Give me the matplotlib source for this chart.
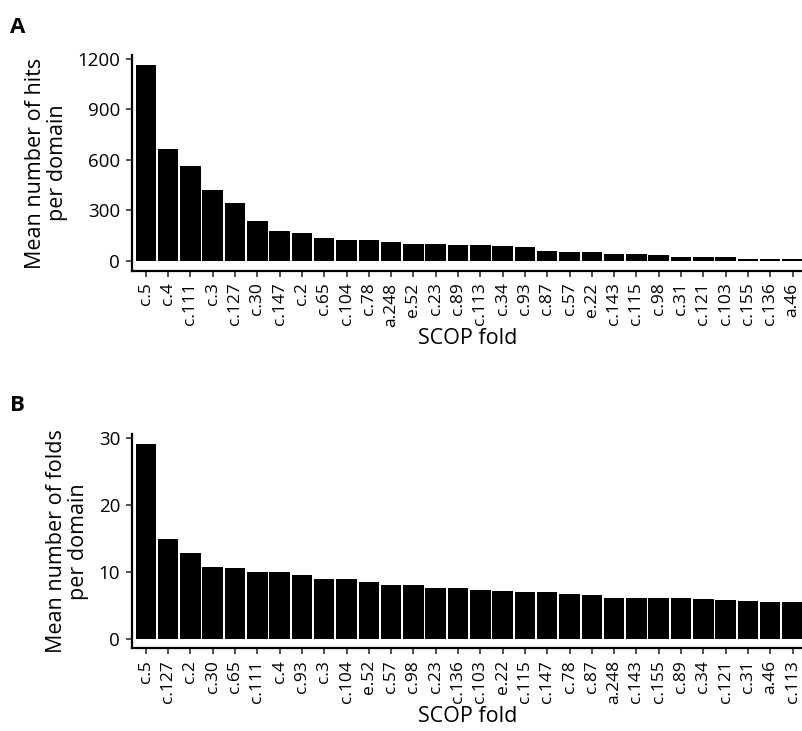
import matplotlib
import matplotlib.pyplot as plt
import numpy as np

plt.switch_backend('agg')
plt.rcParams['font.family'] = ['Open Sans', 'DejaVu Sans']

# panel A: mean number of hits per domain
folds_a = ['c.5', 'c.4', 'c.111', 'c.3', 'c.127', 'c.30', 'c.147', 'c.2', 'c.65',
           'c.104', 'c.78', 'a.248', 'e.52', 'c.23', 'c.89', 'c.113', 'c.34', 'c.93',
           'c.87', 'c.57', 'e.22', 'c.143', 'c.115', 'c.98', 'c.31', 'c.121',
           'c.103', 'c.155', 'c.136', 'a.46']
hits_a = [1163, 664, 565, 421, 346, 239, 180, 166, 138, 126, 126, 114, 101, 101,
          95, 95, 89, 83, 59, 53, 53, 41, 41, 36, 24, 24, 24, 12, 12, 12]

# panel B: mean number of folds per domain
folds_b = ['c.5', 'c.127', 'c.2', 'c.30', 'c.65', 'c.111', 'c.4', 'c.93', 'c.3',
           'c.104', 'e.52', 'c.57', 'c.98', 'c.23', 'c.136', 'c.103', 'e.22',
           'c.115', 'c.147', 'c.78', 'c.87', 'a.248', 'c.143', 'c.155', 'c.89',
           'c.34', 'c.121', 'c.31', 'a.46', 'c.113']
nfolds_b = [29.15, 14.98, 12.89, 10.80, 10.65, 9.95, 9.95, 9.60, 9.0, 9.0, 8.46,
            7.96, 7.96, 7.51, 7.51, 7.21, 7.06, 6.92, 6.92, 6.62, 6.47, 6.02,
            6.02, 6.02, 6.02, 5.87, 5.72, 5.57, 5.42, 5.42]

fig = plt.figure(figsize=(8.03, 7.31), dpi=100)

def panel(rect, labels, vals, yticks, ylabel, letter, lety):
    ax = fig.add_axes(rect)
    x = np.arange(len(labels))
    ax.bar(x, vals, width=0.92, color='black')
    top = max(vals) * 1.05
    ax.set_ylim(-max(vals) * 0.05, top)
    ax.set_xlim(-0.62, len(labels) - 0.53)
    ax.set_xticks(x)
    ax.set_xticklabels(labels, rotation=90, fontsize=12.5)
    ax.set_yticks(yticks)
    ax.set_yticklabels([str(t) for t in yticks], fontsize=13.5)
    for s in ['top', 'right']:
        ax.spines[s].set_visible(False)
    for s in ['left', 'bottom']:
        ax.spines[s].set_linewidth(1.6)
        ax.spines[s].set_color('black')
    ax.tick_params(length=4.5, width=1.2, color='#333333', pad=4)
    ax.set_ylabel(ylabel, fontsize=15.5, linespacing=1.05, labelpad=7)
    ax.set_xlabel('SCOP fold', fontsize=15.5, labelpad=1)
    fig.text(10 / 803, lety, letter, fontsize=16, fontweight='bold')
    return ax

panel([0.1644, 0.6297, 0.8356, 0.2948], folds_a, hits_a, [0, 300, 600, 900, 1200],
      'Mean number of hits\nper domain', 'A', 1 - 33 / 731)
panel([0.1644, 0.1131, 0.8356, 0.2927], folds_b, nfolds_b, [0, 10, 20, 30],
      'Mean number of folds\nper domain', 'B', 1 - 411 / 731)

plt.savefig('out.png', dpi=100)
